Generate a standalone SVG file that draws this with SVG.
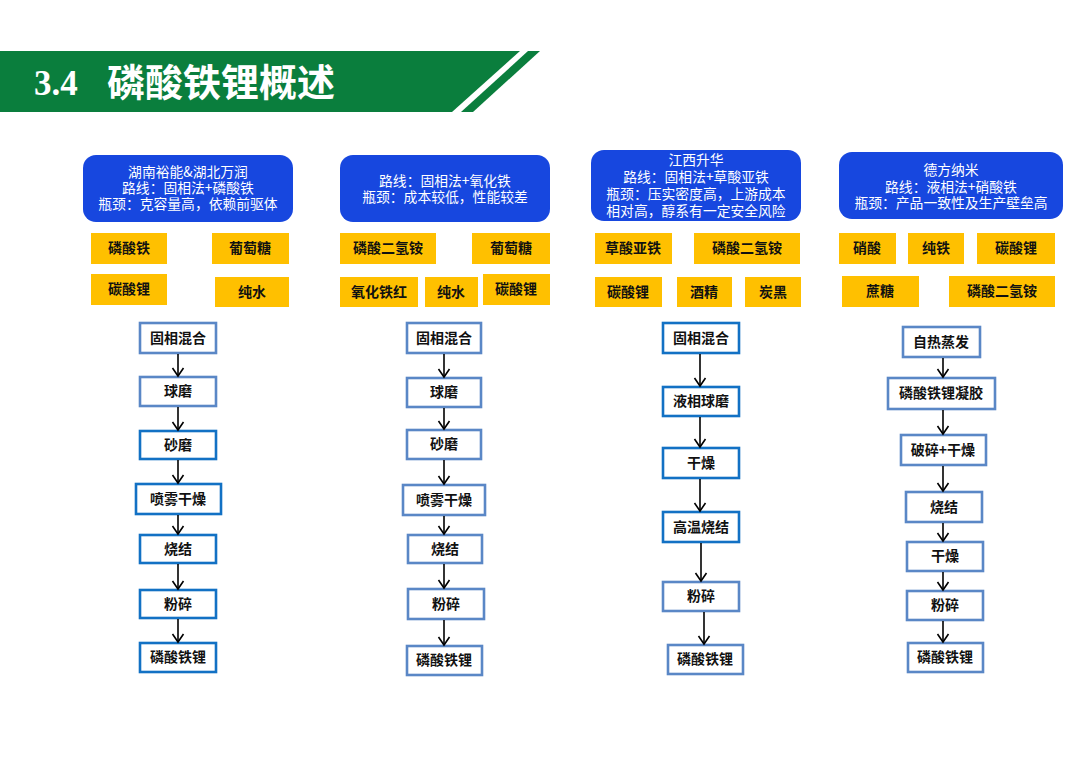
<svg xmlns="http://www.w3.org/2000/svg" width="1080" height="764" viewBox="0 0 1080 764">
<style>
.hdr{fill:#0a7e3d}
.blue{fill:#1747df}
.bt{font-family:"Noto Sans CJK SC","Noto Sans",sans-serif;font-size:13.8px;fill:#fff;text-anchor:middle}
.yel{fill:#ffc000}
.yt{font-family:"Noto Sans CJK SC","Noto Sans",sans-serif;font-size:14px;font-weight:700;fill:#111;text-anchor:middle}
.ps{fill:#fff;stroke:#5a87c6;stroke-width:2.6}
.pb{fill:#fff;stroke:#1271c4;stroke-width:2.6}
.pt{font-family:"Noto Sans CJK SC","Noto Sans",sans-serif;font-size:14px;font-weight:700;fill:#111;text-anchor:middle}
.arr{stroke:#000;stroke-width:1.6;fill:none;marker-end:url(#ah)}
</style>
<defs>
<marker id="ah" viewBox="-10 -7 12 14" refX="0" refY="0" markerWidth="12" markerHeight="14" markerUnits="userSpaceOnUse" orient="auto">
<path d="M-8,-5.5 L0,0 L-8,5.5" fill="none" stroke="#000" stroke-width="1.6"/>
</marker>
</defs>
<rect width="1080" height="764" fill="#fff"/>
<g id="header">
<polygon class="hdr" points="0,51 520,51 452,112 0,112"/>
<polygon class="hdr" points="528,51 540,51 473,112 461,112"/>
<text x="34" y="95" font-family="Liberation Serif,serif" font-size="35" font-weight="700" fill="#fff">3.4</text>
<text x="107" y="96" font-family="Noto Sans CJK SC,sans-serif" font-size="38" font-weight="700" fill="#fff">磷酸铁锂概述</text>
</g>

<g id="col1-head"><rect class="blue" x="83" y="155" width="210" height="67" rx="13"/>
<text class="bt"><tspan x="188" y="177">湖南裕能&amp;湖北万润</tspan><tspan x="188" y="193">路线：固相法+磷酸铁</tspan><tspan x="188" y="209">瓶颈：克容量高，依赖前驱体</tspan></text></g>
<g id="col2-head"><rect class="blue" x="340" y="155" width="210" height="67" rx="13"/>
<text class="bt"><tspan x="445" y="186">路线：固相法+氧化铁</tspan><tspan x="445" y="202">瓶颈：成本较低，性能较差</tspan></text></g>
<g id="col3-head"><rect class="blue" x="591" y="150" width="210" height="71" rx="13"/>
<text class="bt"><tspan x="696" y="165">江西升华</tspan><tspan x="696" y="182">路线：固相法+草酸亚铁</tspan><tspan x="696" y="199">瓶颈：压实密度高，上游成本</tspan><tspan x="696" y="216">相对高，醇系有一定安全风险</tspan></text></g>
<g id="col4-head"><rect class="blue" x="839" y="152" width="224" height="67" rx="13"/>
<text class="bt"><tspan x="951" y="175">德方纳米</tspan><tspan x="951" y="192">路线：液相法+硝酸铁</tspan><tspan x="951" y="208">瓶颈：产品一致性及生产壁垒高</tspan></text></g>

<g id="y1a"><rect class="yel" x="91" y="233" width="76" height="31"/><text class="yt" x="129" y="253">磷酸铁</text></g>
<g id="y1b"><rect class="yel" x="212" y="233" width="77" height="31"/><text class="yt" x="250" y="253">葡萄糖</text></g>
<g id="y1c"><rect class="yel" x="91" y="274" width="76" height="31"/><text class="yt" x="129" y="294">碳酸锂</text></g>
<g id="y1d"><rect class="yel" x="215" y="277" width="74" height="30"/><text class="yt" x="252" y="297">纯水</text></g>

<g id="y2a"><rect class="yel" x="340" y="233" width="96" height="31"/><text class="yt" x="388" y="253">磷酸二氢铵</text></g>
<g id="y2b"><rect class="yel" x="472" y="233" width="78" height="31"/><text class="yt" x="511" y="253">葡萄糖</text></g>
<g id="y2c"><rect class="yel" x="340" y="277" width="78" height="30"/><text class="yt" x="379" y="297">氧化铁红</text></g>
<g id="y2d"><rect class="yel" x="425" y="277" width="53" height="30"/><text class="yt" x="451" y="297">纯水</text></g>
<g id="y2e"><rect class="yel" x="483" y="274" width="67" height="31"/><text class="yt" x="516" y="294">碳酸锂</text></g>

<g id="y3a"><rect class="yel" x="595" y="233" width="77" height="31"/><text class="yt" x="633" y="253">草酸亚铁</text></g>
<g id="y3b"><rect class="yel" x="694" y="233" width="106" height="31"/><text class="yt" x="747" y="253">磷酸二氢铵</text></g>
<g id="y3c"><rect class="yel" x="595" y="277" width="67" height="30"/><text class="yt" x="628" y="297">碳酸锂</text></g>
<g id="y3d"><rect class="yel" x="677" y="277" width="55" height="30"/><text class="yt" x="704" y="297">酒精</text></g>
<g id="y3e"><rect class="yel" x="745" y="277" width="56" height="30"/><text class="yt" x="773" y="297">炭黑</text></g>

<g id="y4a"><rect class="yel" x="839" y="233" width="57" height="31"/><text class="yt" x="867" y="253">硝酸</text></g>
<g id="y4b"><rect class="yel" x="908" y="233" width="56" height="31"/><text class="yt" x="936" y="253">纯铁</text></g>
<g id="y4c"><rect class="yel" x="977" y="233" width="78" height="31"/><text class="yt" x="1016" y="253">碳酸锂</text></g>
<g id="y4d"><rect class="yel" x="842" y="276" width="77" height="31"/><text class="yt" x="880" y="296">蔗糖</text></g>
<g id="y4e"><rect class="yel" x="949" y="276" width="106" height="31"/><text class="yt" x="1002" y="296">磷酸二氢铵</text></g>

<g id="p1a"><rect class="ps" x="140" y="323" width="76" height="30"/><text class="pt" x="178" y="343">固相混合</text></g>
<g id="p1b"><rect class="ps" x="140" y="377" width="76" height="29"/><text class="pt" x="178" y="396">球磨</text></g>
<g id="p1c"><rect class="pb" x="140" y="431" width="76" height="28"/><text class="pt" x="178" y="450">砂磨</text></g>
<g id="p1d"><rect class="pb" x="136" y="484" width="85" height="30"/><text class="pt" x="178" y="504">喷雾干燥</text></g>
<g id="p1e"><rect class="pb" x="140" y="535" width="76" height="28"/><text class="pt" x="178" y="554">烧结</text></g>
<g id="p1f"><rect class="pb" x="140" y="590" width="76" height="28"/><text class="pt" x="178" y="609">粉碎</text></g>
<g id="p1g"><rect class="pb" x="140" y="643" width="76" height="29"/><text class="pt" x="178" y="662">磷酸铁锂</text></g>

<g id="p2a"><rect class="ps" x="407" y="323" width="74" height="30"/><text class="pt" x="444" y="343">固相混合</text></g>
<g id="p2b"><rect class="ps" x="407" y="378" width="74" height="29"/><text class="pt" x="444" y="397">球磨</text></g>
<g id="p2c"><rect class="ps" x="407" y="430" width="74" height="29"/><text class="pt" x="444" y="449">砂磨</text></g>
<g id="p2d"><rect class="ps" x="403" y="485" width="82" height="30"/><text class="pt" x="444" y="505">喷雾干燥</text></g>
<g id="p2e"><rect class="ps" x="408" y="535" width="74" height="28"/><text class="pt" x="445" y="554">烧结</text></g>
<g id="p2f"><rect class="ps" x="408" y="589" width="76" height="30"/><text class="pt" x="446" y="609">粉碎</text></g>
<g id="p2g"><rect class="ps" x="407" y="646" width="75" height="29"/><text class="pt" x="444" y="665">磷酸铁锂</text></g>

<g id="p3a"><rect class="pb" x="663" y="323" width="76" height="30"/><text class="pt" x="701" y="343">固相混合</text></g>
<g id="p3b"><rect class="pb" x="663" y="387" width="76" height="29"/><text class="pt" x="701" y="406">液相球磨</text></g>
<g id="p3c"><rect class="pb" x="663" y="448" width="76" height="30"/><text class="pt" x="701" y="468">干燥</text></g>
<g id="p3d"><rect class="pb" x="663" y="512" width="76" height="30"/><text class="pt" x="701" y="532">高温烧结</text></g>
<g id="p3e"><rect class="ps" x="663" y="582" width="76" height="29"/><text class="pt" x="701" y="601">粉碎</text></g>
<g id="p3f"><rect class="ps" x="668" y="645" width="75" height="29"/><text class="pt" x="705" y="664">磷酸铁锂</text></g>

<g id="p4a"><rect class="ps" x="903" y="327" width="77" height="30"/><text class="pt" x="941" y="347">自热蒸发</text></g>
<g id="p4b"><rect class="ps" x="888" y="378" width="107" height="31"/><text class="pt" x="941" y="398">磷酸铁锂凝胶</text></g>
<g id="p4c"><rect class="ps" x="901" y="435" width="85" height="30"/><text class="pt" x="943" y="455">破碎+干燥</text></g>
<g id="p4d"><rect class="ps" x="906" y="492" width="76" height="30"/><text class="pt" x="944" y="512">烧结</text></g>
<g id="p4e"><rect class="ps" x="907" y="542" width="76" height="29"/><text class="pt" x="945" y="561">干燥</text></g>
<g id="p4f"><rect class="ps" x="907" y="591" width="76" height="29"/><text class="pt" x="945" y="610">粉碎</text></g>
<g id="p4g"><rect class="ps" x="908" y="643" width="75" height="29"/><text class="pt" x="945" y="662">磷酸铁锂</text></g>

<g id="connectors">
<line class="arr" x1="178" y1="354" x2="178" y2="376"/>
<line class="arr" x1="178" y1="407" x2="178" y2="430"/>
<line class="arr" x1="178" y1="460" x2="178" y2="483"/>
<line class="arr" x1="178" y1="515" x2="178" y2="534"/>
<line class="arr" x1="178" y1="564" x2="178" y2="589"/>
<line class="arr" x1="178" y1="619" x2="178" y2="642"/>

<line class="arr" x1="444" y1="354" x2="444" y2="377"/>
<line class="arr" x1="444" y1="408" x2="444" y2="429"/>
<line class="arr" x1="444" y1="460" x2="444" y2="484"/>
<line class="arr" x1="444" y1="516" x2="444" y2="534"/>
<line class="arr" x1="444" y1="564" x2="444" y2="588"/>
<line class="arr" x1="444" y1="620" x2="444" y2="645"/>

<line class="arr" x1="700" y1="354" x2="700" y2="386"/>
<line class="arr" x1="700" y1="417" x2="700" y2="447"/>
<line class="arr" x1="700" y1="479" x2="700" y2="511"/>
<line class="arr" x1="701" y1="543" x2="701" y2="581"/>
<line class="arr" x1="704" y1="612" x2="704" y2="644"/>

<line class="arr" x1="943" y1="358" x2="943" y2="377"/>
<line class="arr" x1="943" y1="410" x2="943" y2="434"/>
<line class="arr" x1="943" y1="466" x2="943" y2="491"/>
<line class="arr" x1="943" y1="523" x2="943" y2="541"/>
<line class="arr" x1="943" y1="572" x2="943" y2="590"/>
<line class="arr" x1="943" y1="621" x2="943" y2="642"/>
</g>
</svg>
